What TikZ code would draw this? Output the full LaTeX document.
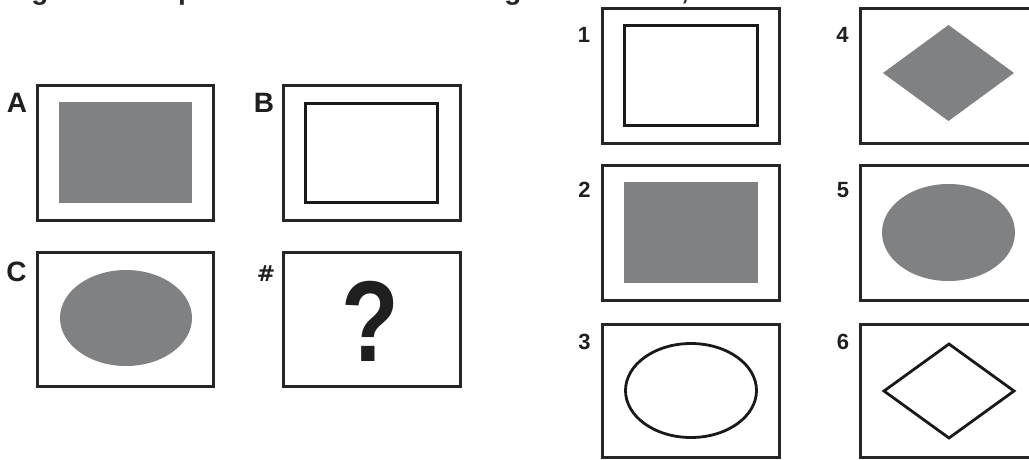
\documentclass[tikz,border=0pt]{standalone}
\usepackage{fontspec}
\setmainfont{Liberation Sans}
\newfontfamily\hashfont{DejaVu Sans}
\begin{document}
\begin{tikzpicture}[x=1pt,y=-1pt,
  frame/.style={draw=black!85,line width=3pt},
  outline/.style={draw=black!90,line width=2.8pt},
  shade/.style={fill=graymid},
  lbl/.style={font=\bfseries\fontsize{28}{30}\selectfont,anchor=base,inner sep=0pt,text=black!88},
  num/.style={font=\bfseries\fontsize{22}{24}\selectfont,anchor=base,inner sep=0pt,text=black!88},
  top/.style={font=\bfseries\fontsize{28}{30}\selectfont,anchor=base,inner sep=0pt,text=black!85}]
\definecolor{graymid}{RGB}{128,129,131}
\useasboundingbox (0,0) rectangle (1029,459);
\begin{scope}
\clip (0,0) rectangle (1029,459);
% cut-off title fragments
\node[top] (t1) at (40,-1) {g};
\node[top,anchor=base west] (t2) at (178,-1) {p};
\node[top] (t3) at (513,-1) {g};
\node[top] (t4) at (685,-1) {,};
% left panel
\draw[frame] (37,85) rectangle (213,220);
\fill[shade] (59,102) rectangle (192,203);
\draw[frame] (283,85) rectangle (460,220);
\draw[outline] (305.5,103.5) rectangle (437.5,202.5);
\draw[frame] (37,252.5) rectangle (213.5,386);
\fill[shade] (126,318) ellipse [x radius=66, y radius=48];
\draw[frame] (283,252.5) rectangle (460,386);
\node[font=\bfseries\fontsize{115}{120}\selectfont,anchor=base,inner sep=0pt,text=black!88,xscale=0.82] (q) at (370,361) {?};
\node[lbl] (la) at (17,112) {A};
\node[lbl] (lb) at (264,112) {B};
\node[lbl] (lc) at (16.5,281) {C};
\node[lbl,font=\hashfont\bfseries\fontsize{22}{24}\selectfont] (lh) at (266,281) {\#};
% right panel
\draw[frame] (602.5,8.5) rectangle (779,143);
\draw[outline] (624.5,25.5) rectangle (757.5,125.5);
\draw[frame] (602.5,165.5) rectangle (779,300);
\fill[shade] (624,182) rectangle (758,283);
\draw[frame] (602.5,324.5) rectangle (779,457.5);
\draw[outline] (691,390.5) ellipse [x radius=65.5, y radius=47];
\draw[frame] (1040,8.5) -- (860.5,8.5) -- (860.5,143) -- (1040,143);
\fill[shade] (883,73) -- (948.5,25) -- (1014,73) -- (948.5,121) -- cycle;
\draw[frame] (1040,165.5) -- (860.5,165.5) -- (860.5,300) -- (1040,300);
\fill[shade] (948.5,232.5) ellipse [x radius=66.5, y radius=48.5];
\draw[frame] (1040,324.5) -- (860.5,324.5) -- (860.5,457.5) -- (1040,457.5);
\draw[outline,line join=miter] (884,391) -- (949,344) -- (1014,391) -- (949,438) -- cycle;
\node[num] (n1) at (584,42) {1};
\node[num] (n2) at (584.5,197) {2};
\node[num] (n3) at (584.5,349.5) {3};
\node[num] (n4) at (842.5,42) {4};
\node[num] (n5) at (843,197) {5};
\node[num] (n6) at (843,349.5) {6};
\end{scope}
\end{tikzpicture}
\end{document}
